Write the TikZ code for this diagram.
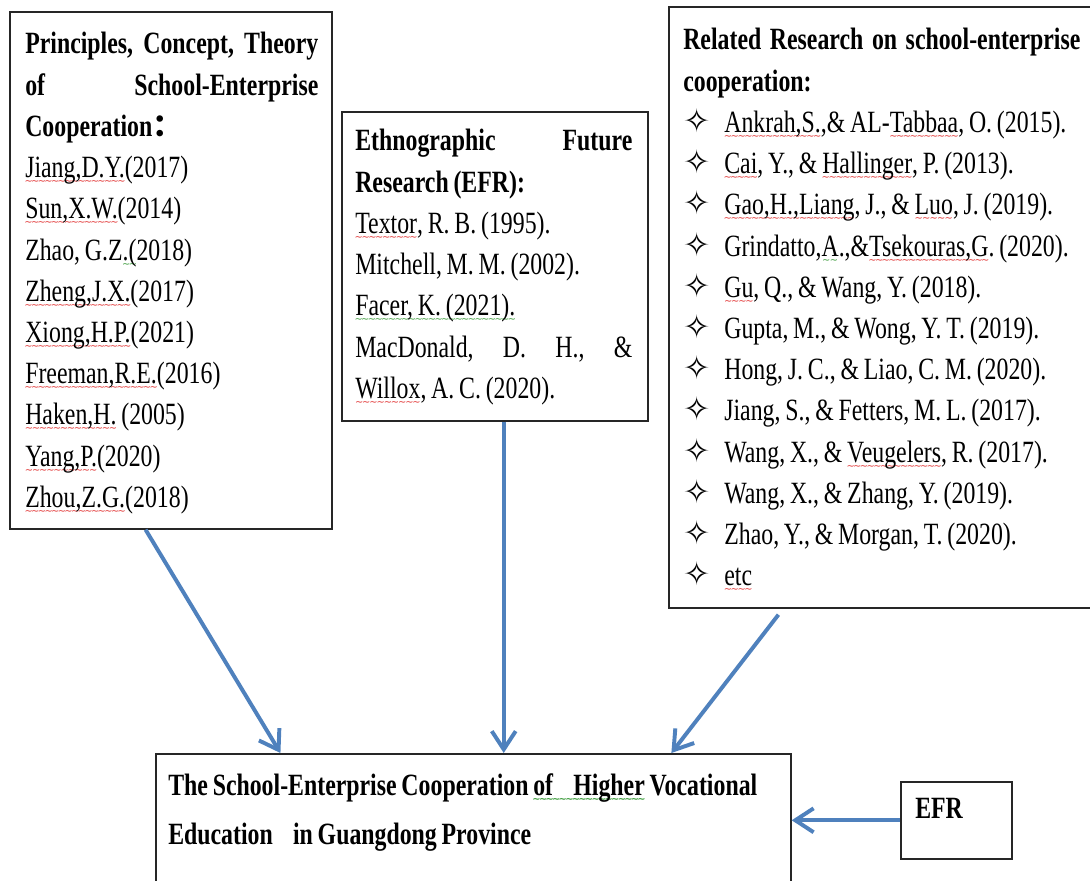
\documentclass[tikz,border=0pt]{standalone}
\usepackage{fontspec}
\setmainfont{Liberation Serif}[FakeStretch=0.77]
\newfontfamily\symfont{DejaVu Sans}[Scale=1.05]
\newfontfamily\wavefont{DejaVu Sans}
\newfontfamily\cjk{Noto Sans CJK SC}
\usepackage{tikz}
\usetikzlibrary{arrows.meta,calc}
\definecolor{ArrowBlue}{HTML}{4F81BD}
\definecolor{FrameGray}{HTML}{262626}
\definecolor{WaveRed}{HTML}{E03030}
\definecolor{WaveGreen}{HTML}{3A9A3A}
\newcommand{\wavebelow}[2]{\leavevmode\setbox0=\hbox{#2}%
  \rlap{\raisebox{-5pt}[0pt][0pt]{\textcolor{#1}{\hbox to \wd0{\wavefont\fontsize{7}{7}\selectfont
    \xleaders\hbox{\kern-0.6pt∼\kern-0.6pt}\hfill}}}}\box0\relax}
\newcommand{\redsq}[1]{\wavebelow{WaveRed}{#1}}
\newcommand{\greensq}[1]{\wavebelow{WaveGreen}{#1}}
\newcommand{\refitem}[1]{\leavevmode\makebox[1.025cm][l]{\symfont ✧}\mbox{#1}}
\newcommand{\tightspace}{\frenchspacing\spaceskip=3.4pt plus 2pt minus 0.5pt\xspaceskip=3.4pt plus 2pt\relax}

\begin{document}
\begin{tikzpicture}[x=0.025cm, y=-0.025cm,
    refbox/.style={draw=FrameGray, line width=1.1pt, inner sep=0pt, anchor=north west},
    boxtext/.style={anchor=base west, inner sep=0pt, align=left,
                    font=\fontsize{22}{29.3}\selectfont, execute at begin node=\tightspace},
    flowarrow/.style={-{Straight Barb[length=13pt,width=17pt]}, line width=2.8pt, draw=ArrowBlue}]
  \useasboundingbox (0,0) rectangle (1090,880);
  \clip (0,0) rectangle (1090,880);

  % frames
  \node[refbox, minimum width=8.05cm, minimum height=12.925cm] (principles) at (9,11) {};
  \node[refbox, minimum width=7.65cm, minimum height=7.725cm] (ethno) at (341,111) {};
  \node[refbox, minimum width=10.7cm, minimum height=15.025cm] (related) at (668,6) {};
  \node[refbox, minimum width=15.875cm, minimum height=3.425cm] (target) at (155,753) {};
  \node[refbox, minimum width=2.775cm, minimum height=1.925cm] (efr) at (900,781) {};

  % texts
  \node[boxtext, text width=7.325cm] (principlestext) at (25,54)
    {{\bfseries Principles,\hfill Concept,\hfill Theory\\ of\hfill School-Enterprise\\ Cooperation{\cjk ：}}\\
     \redsq{Jiang,D.Y.}(2017)\\
     \redsq{Sun,X.W.}(2014)\\
     Zhao, G.Z\greensq{.(}2018)\\
     \redsq{Zheng,J.X.}(2017)\\
     \redsq{Xiong,H.P.}(2021)\\
     \redsq{Freeman,R.E.}(2016)\\
     \redsq{Haken,H.} (2005)\\
     \redsq{Yang,P.}(2020)\\
     \redsq{Zhou,Z.G.}(2018)};
  \node[boxtext, text width=6.925cm] (ethnotext) at (355,151)
    {{\bfseries Ethnographic\hfill Future\\ Research (EFR):}\\
     \redsq{Textor}, R. B. (1995).\\
     Mitchell, M. M. (2002).\\
     \greensq{Facer, K. (2021).}\\
     MacDonald,\hfill D.\hfill H.,\hfill \&\\
     \redsq{Willox}, A. C. (2020).};
  \node[boxtext, text width=9.925cm] (relatedtext) at (683,50)
    {{\bfseries Related\hfill Research\hfill on\hfill school-enterprise\\ cooperation:}\\
     \refitem{\redsq{Ankrah,S.},\& AL-\redsq{Tabbaa}, O. (2015).}\\
     \refitem{\redsq{Cai}, Y., \& \redsq{Hallinger}, P. (2013).}\\
     \refitem{\redsq{Gao,H.,Liang}, J., \& \redsq{Luo}, J. (2019).}\\
     \refitem{Grindatto,\greensq{A}.,\&\redsq{Tsekouras,G}. (2020).}\\
     \refitem{\redsq{Gu}, Q., \& Wang, Y. (2018).}\\
     \refitem{Gupta, M., \& Wong, Y. T. (2019).}\\
     \refitem{Hong, J. C., \& Liao, C. M. (2020).}\\
     \refitem{Jiang, S., \& Fetters, M. L. (2017).}\\
     \refitem{Wang, X., \& \redsq{Veugelers}, R. (2017).}\\
     \refitem{Wang, X., \& Zhang, Y. (2019).}\\
     \refitem{Zhao, Y., \& Morgan, T. (2020).}\\
     \refitem{\redsq{etc}}};
  \node[boxtext, text width=15.5cm, font=\fontsize{22}{34.9}\selectfont\bfseries] (targettext) at (168,795)
    {The School-Enterprise Cooperation \greensq{of\hspace{11pt} Higher} Vocational\\
     Education\hspace{11pt} in Guangdong Province};
  \node[boxtext, font=\fontsize{22}{29.3}\selectfont\bfseries] (efrtext) at (915,818) {EFR};

  % connectors
  \coordinate (p1) at ($(principles.south west)!0.422!(principles.south east)$);
  \coordinate (e1) at ($(ethno.south west)!0.529!(ethno.south east)$);
  \coordinate (r1) at ($(related.south west)!0.257!(related.south east)+(0,6)$);
  \draw[flowarrow] (p1) -- ($(target.north west)!0.197!(target.north east)$);
  \draw[flowarrow] (e1) -- (e1 |- target.north);
  \draw[flowarrow] (r1) -- ($(target.north west)!0.811!(target.north east)$);
  \draw[flowarrow] (efr.west) -- (efr.west -| target.east);
\end{tikzpicture}
\end{document}
